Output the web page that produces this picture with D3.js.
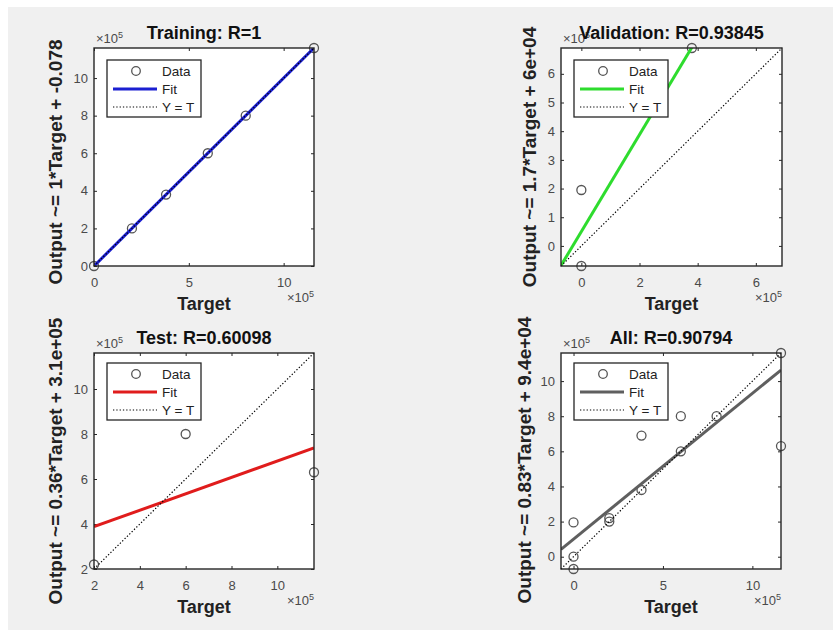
<!DOCTYPE html>
<html><head><meta charset="utf-8">
<script src="https://cdn.jsdelivr.net/npm/d3@7"></script>
<style>html,body{margin:0;padding:0;background:#fff;} svg{display:block;}</style>
</head><body><svg id="chart" width="833" height="630"></svg>
<script>
// ---- data (values in units of 10^5) ----
const panelTitles = ["Training: R=1", "Validation: R=0.93845", "Test: R=0.60098", "All: R=0.90794"];
const yAxisLabels = [
  "Output ~= 1*Target + -0.078",
  "Output ~= 1.7*Target + 6e+04",
  "Output ~= 0.36*Target + 3.1e+05",
  "Output ~= 0.83*Target + 9.4e+04"
];
const xAxisLabel = "Target";
const legendLabels = ["Data", "Fit", "Y = T"];
const exponentLabel = "5";

const trainTargets = [0, 2, 3.8, 6, 8, 11.6];
const trainOutputs = [0, 2, 3.8, 6, 8, 11.6];
const valTargets = [0, 0, 3.8];
const valOutputs = [1.95, -0.7, 6.9];
const testTargets = [2, 6, 11.6];
const testOutputs = [2.2, 8.0, 6.3];
const allTargets = trainTargets.concat(valTargets, testTargets);
const allOutputs = trainOutputs.concat(valOutputs, testOutputs);

const fitSlopes = [1, 1.69, 0.365, 0.83];
const fitIntercepts = [-0.00000078, 0.5, 3.15, 1.0];

const xTickValues = [[0, 5, 10], [0, 2, 4, 6], [2, 4, 6, 8, 10], [0, 5, 10]];
const yTickValues = [[0, 2, 4, 6, 8, 10], [0, 1, 2, 3, 4, 5, 6], [2, 4, 6, 8, 10], [0, 2, 4, 6, 8, 10]];

// ---- style / layout ----
const fitColors = ["#1b1fd1", "#2edc2e", "#e01c1c", "#5f5f5f"];
const boxes = [
  {x: 94, y: 48, w: 220, h: 218},
  {x: 561, y: 48, w: 221, h: 218},
  {x: 94, y: 353, w: 220, h: 216},
  {x: 561, y: 353, w: 220, h: 216}
];
const yLabelOffsets = [39, 32, 39, 37];
const yLabelShift = [5, 0, 0, -1];
const legendTop = [12, 12, 10, 10];
const FONT = "'Liberation Sans', Arial, Helvetica, sans-serif";
const AXC = "#262626";
const TICKC = "#4a4a4a";

const panels = [
  {t: trainTargets, o: trainOutputs},
  {t: valTargets, o: valOutputs},
  {t: testTargets, o: testOutputs},
  {t: allTargets, o: allOutputs}
];

const svg = d3.select("#chart");
svg.append("rect").attr("x", 8).attr("y", 7).attr("width", 825).attr("height", 623).attr("fill", "#f0f0f0");
const defs = svg.append("defs");

panels.forEach((p, i) => {
  const b = boxes[i];
  const lo = d3.min(p.t.concat(p.o));
  const hi = d3.max(p.t.concat(p.o));
  const x = d3.scaleLinear().domain([lo, hi]).range([b.x, b.x + b.w]);
  const y = d3.scaleLinear().domain([lo, hi]).range([b.y + b.h, b.y]);
  const g = svg.append("g");

  defs.append("clipPath").attr("id", "clip" + i)
    .append("rect").attr("x", b.x).attr("y", b.y).attr("width", b.w).attr("height", b.h);

  // plot area
  g.append("rect").attr("x", b.x).attr("y", b.y).attr("width", b.w).attr("height", b.h).attr("fill", "#fff");

  // axes with inward ticks
  const styleAxis = sel => {
    sel.select(".domain").remove();
    sel.selectAll(".tick line").attr("stroke", AXC).attr("stroke-width", 1);
    sel.selectAll(".tick text").attr("fill", TICKC).attr("font-family", FONT).attr("font-size", 13);
  };
  g.append("g").attr("transform", `translate(0,${b.y + b.h})`)
    .call(d3.axisBottom(x).tickValues(xTickValues[i]).tickSizeInner(-3).tickSizeOuter(0).tickPadding(12).tickFormat(d3.format("d")))
    .call(styleAxis);
  g.append("g").attr("transform", `translate(0,${b.y})`)
    .call(d3.axisTop(x).tickValues(xTickValues[i]).tickSizeInner(-3).tickSizeOuter(0).tickFormat(""))
    .call(styleAxis);
  g.append("g").attr("transform", `translate(${b.x},0)`)
    .call(d3.axisLeft(y).tickValues(yTickValues[i]).tickSizeInner(-3).tickSizeOuter(0).tickPadding(6).tickFormat(d3.format("d")))
    .call(styleAxis);
  g.append("g").attr("transform", `translate(${b.x + b.w},0)`)
    .call(d3.axisRight(y).tickValues(yTickValues[i]).tickSizeInner(-3).tickSizeOuter(0).tickFormat(""))
    .call(styleAxis);

  // data circles
  g.append("g").selectAll("circle").data(d3.zip(p.t, p.o)).join("circle")
    .attr("cx", d => x(d[0])).attr("cy", d => y(d[1])).attr("r", 4.5)
    .attr("fill", "none").attr("stroke", "#555").attr("stroke-width", 1.3);

  // fit line
  const fitLine = d3.line().x(d => x(d)).y(d => y(fitSlopes[i] * d + fitIntercepts[i]));
  g.append("path").datum([lo, hi]).attr("d", fitLine)
    .attr("clip-path", `url(#clip${i})`)
    .attr("fill", "none").attr("stroke", fitColors[i]).attr("stroke-width", 3);

  // Y = T
  const idLine = d3.line().x(d => x(d)).y(d => y(d));
  g.append("path").datum([lo, hi]).attr("d", idLine)
    .attr("fill", "none").attr("stroke", "#000").attr("stroke-width", 1.2).attr("stroke-dasharray", "1.3,2");

  // box
  g.append("rect").attr("x", b.x).attr("y", b.y).attr("width", b.w).attr("height", b.h)
    .attr("fill", "none").attr("stroke", AXC).attr("stroke-width", 1.4);

  // legend
  const lx = b.x + 13, ly = b.y + legendTop[i];
  const lg = g.append("g").attr("transform", `translate(${lx},${ly})`);
  lg.append("rect").attr("width", 94).attr("height", 57).attr("fill", "#fff").attr("stroke", AXC).attr("stroke-width", 1.3);
  const rows = [11, 29, 47];
  lg.append("circle").attr("cx", 29).attr("cy", rows[0]).attr("r", 4.3)
    .attr("fill", "none").attr("stroke", "#555").attr("stroke-width", 1.3);
  lg.append("line").attr("x1", 6).attr("x2", 50).attr("y1", rows[1]).attr("y2", rows[1])
    .attr("stroke", fitColors[i]).attr("stroke-width", 3);
  lg.append("line").attr("x1", 6).attr("x2", 50).attr("y1", rows[2]).attr("y2", rows[2])
    .attr("stroke", "#000").attr("stroke-width", 1.2).attr("stroke-dasharray", "1.3,2");
  lg.selectAll("text").data(legendLabels).join("text")
    .attr("x", 55).attr("y", (d, k) => rows[k]).attr("dy", "0.35em")
    .attr("font-family", FONT).attr("font-size", 13.5).attr("fill", "#222").text(d => d);

  // exponent labels
  const expTop = g.append("text").attr("x", b.x + 2).attr("y", b.y - 5)
    .attr("font-family", FONT).attr("font-size", 13).attr("fill", TICKC);
  expTop.append("tspan").text("\u00d710");
  expTop.append("tspan").attr("dy", -5).attr("font-size", 9).text(exponentLabel);
  const expBot = g.append("text").attr("x", b.x + b.w).attr("y", b.y + b.h + 36).attr("text-anchor", "end")
    .attr("font-family", FONT).attr("font-size", 13).attr("fill", TICKC);
  expBot.append("tspan").text("\u00d710");
  expBot.append("tspan").attr("dy", -5).attr("font-size", 9).text(exponentLabel);

  // title
  g.append("text").attr("x", b.x + b.w / 2).attr("y", b.y - 9).attr("text-anchor", "middle")
    .attr("font-family", FONT).attr("font-weight", "bold").attr("font-size", 18).attr("fill", "#111")
    .text(panelTitles[i]);

  // x label
  g.append("text").attr("x", b.x + b.w / 2).attr("y", b.y + b.h + 44).attr("text-anchor", "middle")
    .attr("font-family", FONT).attr("font-weight", "bold").attr("font-size", 18).attr("fill", "#222")
    .text(xAxisLabel);

  // y label
  const cy = b.y + b.h / 2 + yLabelShift[i];
  g.append("text").attr("transform", `translate(${b.x - yLabelOffsets[i]},${cy}) rotate(-90)`)
    .attr("text-anchor", "middle").attr("dominant-baseline", "central")
    .attr("font-family", FONT).attr("font-weight", "bold").attr("font-size", 19).attr("fill", "#222")
    .text(yAxisLabels[i]);
});
</script>
</body></html>
